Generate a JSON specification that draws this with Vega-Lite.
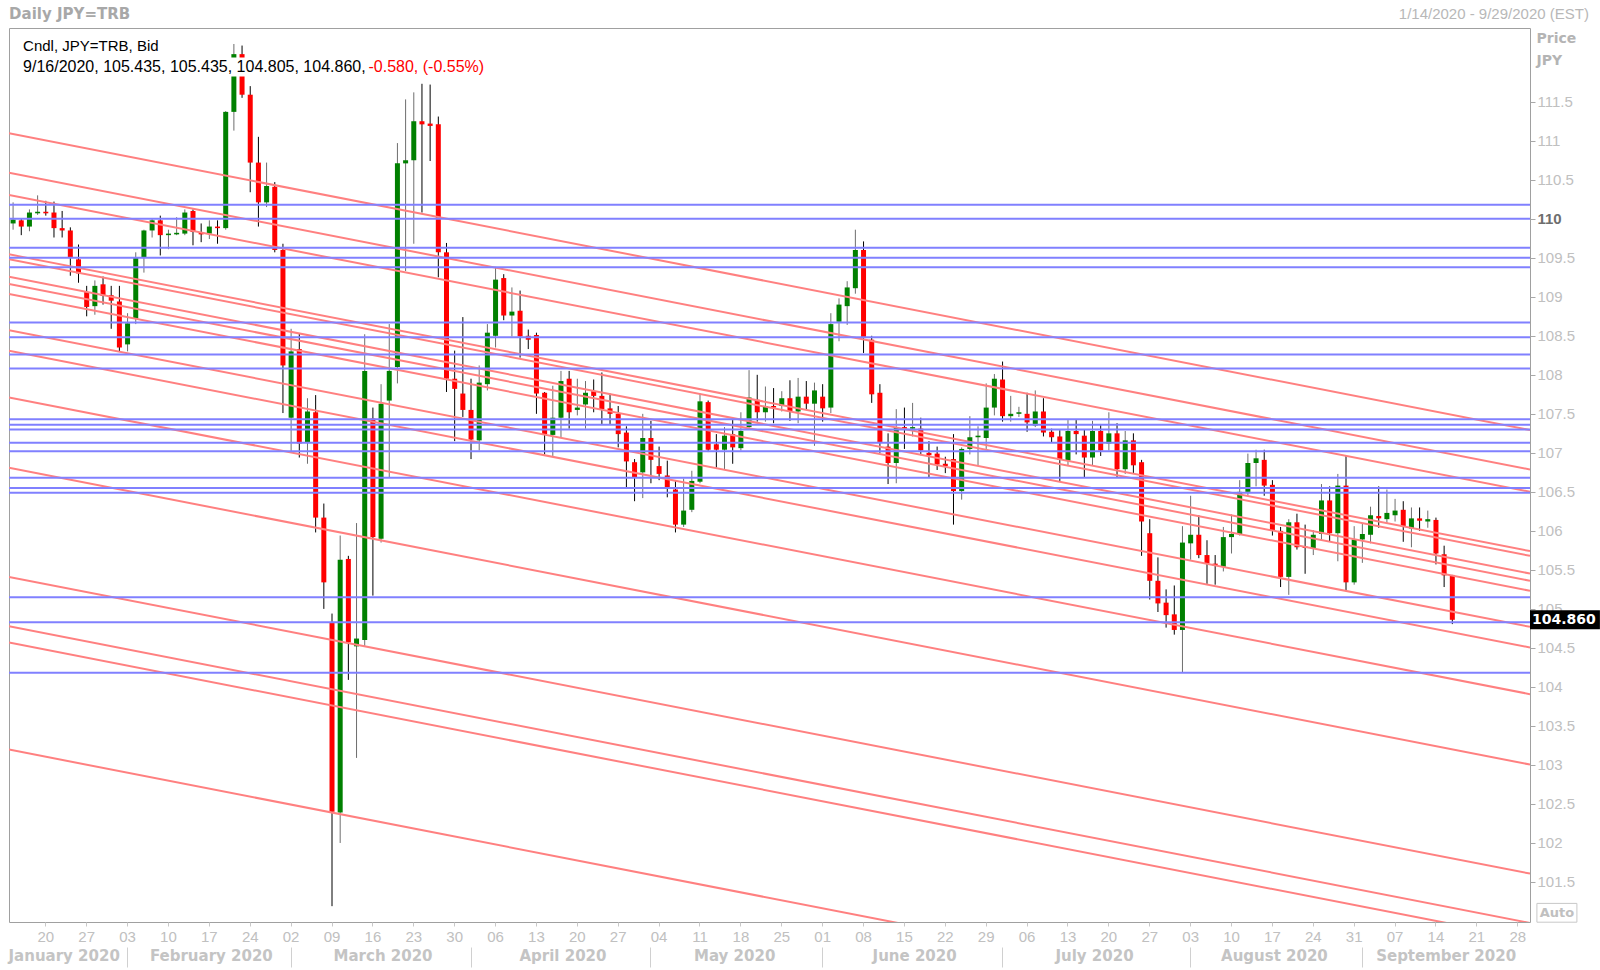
{
"$schema": "https://vega.github.io/schema/vega-lite/v6.json",
"width": 1521,
"height": 894,
"autosize": {"type": "none"},
"padding": {"left": 9, "top": 28, "right": 70, "bottom": 48},
"background": "#ffffff",
"config": {"view": {"stroke": "#a0a0a0", "strokeWidth": 1}, "font": "Liberation Sans"},
"datasets": {
"candles": [
{"d":"2020-01-14","o":109.94,"h":110.21,"l":109.86,"c":109.99},
{"d":"2020-01-15","o":109.98,"h":110.00,"l":109.79,"c":109.90},
{"d":"2020-01-16","o":109.90,"h":110.12,"l":109.84,"c":110.08},
{"d":"2020-01-17","o":110.07,"h":110.30,"l":110.05,"c":110.09},
{"d":"2020-01-20","o":110.09,"h":110.23,"l":110.04,"c":110.07},
{"d":"2020-01-21","o":110.08,"h":110.22,"l":109.76,"c":109.88},
{"d":"2020-01-22","o":109.88,"h":110.10,"l":109.76,"c":109.85},
{"d":"2020-01-23","o":109.85,"h":109.89,"l":109.27,"c":109.51},
{"d":"2020-01-24","o":109.48,"h":109.67,"l":109.18,"c":109.30},
{"d":"2020-01-27","o":109.06,"h":109.14,"l":108.75,"c":108.87},
{"d":"2020-01-28","o":108.88,"h":109.21,"l":108.77,"c":109.14},
{"d":"2020-01-29","o":109.16,"h":109.26,"l":108.90,"c":109.01},
{"d":"2020-01-30","o":109.02,"h":109.14,"l":108.59,"c":108.95},
{"d":"2020-01-31","o":108.94,"h":109.14,"l":108.30,"c":108.35},
{"d":"2020-02-03","o":108.39,"h":108.79,"l":108.30,"c":108.66},
{"d":"2020-02-04","o":108.72,"h":109.57,"l":108.65,"c":109.50},
{"d":"2020-02-05","o":109.50,"h":109.86,"l":109.31,"c":109.85},
{"d":"2020-02-06","o":109.85,"h":110.00,"l":109.76,"c":109.98},
{"d":"2020-02-07","o":109.98,"h":110.04,"l":109.53,"c":109.79},
{"d":"2020-02-10","o":109.79,"h":109.86,"l":109.61,"c":109.81},
{"d":"2020-02-11","o":109.80,"h":110.02,"l":109.79,"c":109.82},
{"d":"2020-02-12","o":109.81,"h":110.12,"l":109.79,"c":110.08},
{"d":"2020-02-13","o":110.10,"h":110.12,"l":109.66,"c":109.83},
{"d":"2020-02-14","o":109.82,"h":109.94,"l":109.70,"c":109.80},
{"d":"2020-02-17","o":109.81,"h":109.98,"l":109.74,"c":109.90},
{"d":"2020-02-18","o":109.90,"h":109.98,"l":109.68,"c":109.88},
{"d":"2020-02-19","o":109.88,"h":111.38,"l":109.86,"c":111.37},
{"d":"2020-02-20","o":111.37,"h":112.24,"l":111.13,"c":112.11},
{"d":"2020-02-21","o":112.11,"h":112.22,"l":111.55,"c":111.59},
{"d":"2020-02-24","o":111.59,"h":111.70,"l":110.34,"c":110.72},
{"d":"2020-02-25","o":110.72,"h":111.05,"l":109.90,"c":110.21},
{"d":"2020-02-26","o":110.21,"h":110.72,"l":110.15,"c":110.42},
{"d":"2020-02-27","o":110.41,"h":110.47,"l":109.57,"c":109.60},
{"d":"2020-02-28","o":109.60,"h":109.68,"l":107.51,"c":108.12},
{"d":"2020-03-02","o":107.45,"h":108.59,"l":107.02,"c":108.30},
{"d":"2020-03-03","o":108.33,"h":108.53,"l":106.94,"c":107.12},
{"d":"2020-03-04","o":107.13,"h":107.70,"l":106.86,"c":107.53},
{"d":"2020-03-05","o":107.52,"h":107.74,"l":105.98,"c":106.17},
{"d":"2020-03-06","o":106.17,"h":106.35,"l":105.00,"c":105.34},
{"d":"2020-03-09","o":104.83,"h":104.94,"l":101.19,"c":102.40},
{"d":"2020-03-10","o":102.39,"h":105.94,"l":102.00,"c":105.63},
{"d":"2020-03-11","o":105.64,"h":105.68,"l":104.09,"c":104.57},
{"d":"2020-03-12","o":104.52,"h":106.10,"l":103.09,"c":104.62},
{"d":"2020-03-13","o":104.60,"h":108.52,"l":104.52,"c":108.05},
{"d":"2020-03-16","o":107.44,"h":107.58,"l":105.17,"c":105.92},
{"d":"2020-03-17","o":105.90,"h":107.88,"l":105.85,"c":107.63},
{"d":"2020-03-18","o":107.67,"h":108.65,"l":106.69,"c":108.05},
{"d":"2020-03-19","o":108.10,"h":110.97,"l":107.89,"c":110.71},
{"d":"2020-03-20","o":110.71,"h":111.53,"l":109.33,"c":110.75},
{"d":"2020-03-23","o":110.75,"h":111.62,"l":109.68,"c":111.25},
{"d":"2020-03-24","o":111.25,"h":111.73,"l":110.08,"c":111.21},
{"d":"2020-03-25","o":111.22,"h":111.72,"l":110.74,"c":111.19},
{"d":"2020-03-26","o":111.21,"h":111.31,"l":109.25,"c":109.57},
{"d":"2020-03-27","o":109.57,"h":109.69,"l":107.78,"c":107.95},
{"d":"2020-03-30","o":107.95,"h":108.31,"l":107.15,"c":107.82},
{"d":"2020-03-31","o":107.76,"h":108.74,"l":107.46,"c":107.55},
{"d":"2020-04-01","o":107.55,"h":107.95,"l":106.92,"c":107.17},
{"d":"2020-04-02","o":107.16,"h":108.12,"l":107.03,"c":107.90},
{"d":"2020-04-03","o":107.88,"h":108.65,"l":107.80,"c":108.54},
{"d":"2020-04-06","o":108.50,"h":109.37,"l":108.35,"c":109.22},
{"d":"2020-04-07","o":109.24,"h":109.29,"l":108.70,"c":108.76},
{"d":"2020-04-08","o":108.76,"h":109.12,"l":108.49,"c":108.81},
{"d":"2020-04-09","o":108.82,"h":109.08,"l":108.22,"c":108.49},
{"d":"2020-04-10","o":108.50,"h":108.58,"l":108.33,"c":108.45},
{"d":"2020-04-13","o":108.51,"h":108.54,"l":107.50,"c":107.76},
{"d":"2020-04-14","o":107.77,"h":107.78,"l":106.98,"c":107.24},
{"d":"2020-04-15","o":107.23,"h":107.86,"l":106.96,"c":107.45},
{"d":"2020-04-16","o":107.45,"h":108.05,"l":107.20,"c":107.92},
{"d":"2020-04-17","o":107.95,"h":108.05,"l":107.31,"c":107.52},
{"d":"2020-04-20","o":107.55,"h":107.95,"l":107.48,"c":107.58},
{"d":"2020-04-21","o":107.62,"h":107.92,"l":107.31,"c":107.77},
{"d":"2020-04-22","o":107.79,"h":107.94,"l":107.52,"c":107.73},
{"d":"2020-04-23","o":107.73,"h":108.03,"l":107.37,"c":107.56},
{"d":"2020-04-24","o":107.57,"h":107.76,"l":107.37,"c":107.50},
{"d":"2020-04-27","o":107.50,"h":107.60,"l":107.07,"c":107.24},
{"d":"2020-04-28","o":107.26,"h":107.34,"l":106.56,"c":106.89},
{"d":"2020-04-29","o":106.88,"h":106.92,"l":106.38,"c":106.69},
{"d":"2020-04-30","o":106.75,"h":107.50,"l":106.42,"c":107.19},
{"d":"2020-05-01","o":107.19,"h":107.41,"l":106.61,"c":106.91},
{"d":"2020-05-04","o":106.83,"h":107.08,"l":106.65,"c":106.73},
{"d":"2020-05-05","o":106.71,"h":106.90,"l":106.43,"c":106.56},
{"d":"2020-05-06","o":106.53,"h":106.65,"l":105.98,"c":106.08},
{"d":"2020-05-07","o":106.08,"h":106.67,"l":106.05,"c":106.26},
{"d":"2020-05-08","o":106.27,"h":106.77,"l":106.24,"c":106.64},
{"d":"2020-05-11","o":106.63,"h":107.76,"l":106.61,"c":107.66},
{"d":"2020-05-12","o":107.65,"h":107.67,"l":107.01,"c":107.04},
{"d":"2020-05-13","o":107.11,"h":107.24,"l":106.81,"c":107.04},
{"d":"2020-05-14","o":107.04,"h":107.33,"l":106.78,"c":107.22},
{"d":"2020-05-15","o":107.24,"h":107.42,"l":106.86,"c":107.07},
{"d":"2020-05-18","o":107.06,"h":107.52,"l":107.03,"c":107.28},
{"d":"2020-05-19","o":107.33,"h":108.06,"l":107.31,"c":107.71},
{"d":"2020-05-20","o":107.68,"h":108.00,"l":107.40,"c":107.52},
{"d":"2020-05-21","o":107.52,"h":107.85,"l":107.40,"c":107.60},
{"d":"2020-05-22","o":107.60,"h":107.83,"l":107.38,"c":107.58},
{"d":"2020-05-25","o":107.60,"h":107.79,"l":107.53,"c":107.70},
{"d":"2020-05-26","o":107.70,"h":107.93,"l":107.41,"c":107.53},
{"d":"2020-05-27","o":107.53,"h":107.96,"l":107.38,"c":107.72},
{"d":"2020-05-28","o":107.72,"h":107.92,"l":107.56,"c":107.63},
{"d":"2020-05-29","o":107.63,"h":107.90,"l":107.09,"c":107.80},
{"d":"2020-06-01","o":107.72,"h":107.88,"l":107.40,"c":107.57},
{"d":"2020-06-02","o":107.58,"h":108.79,"l":107.51,"c":108.65},
{"d":"2020-06-03","o":108.68,"h":108.98,"l":108.43,"c":108.90},
{"d":"2020-06-04","o":108.88,"h":109.20,"l":108.64,"c":109.12},
{"d":"2020-06-05","o":109.11,"h":109.86,"l":109.04,"c":109.60},
{"d":"2020-06-08","o":109.60,"h":109.71,"l":108.28,"c":108.48},
{"d":"2020-06-09","o":108.45,"h":108.50,"l":107.64,"c":107.75},
{"d":"2020-06-10","o":107.77,"h":107.88,"l":107.00,"c":107.14},
{"d":"2020-06-11","o":107.08,"h":107.25,"l":106.60,"c":106.87},
{"d":"2020-06-12","o":106.87,"h":107.56,"l":106.61,"c":107.33},
{"d":"2020-06-15","o":107.33,"h":107.58,"l":107.05,"c":107.31},
{"d":"2020-06-16","o":107.31,"h":107.64,"l":107.21,"c":107.33},
{"d":"2020-06-17","o":107.31,"h":107.45,"l":106.97,"c":107.03},
{"d":"2020-06-18","o":107.00,"h":107.15,"l":106.69,"c":106.97},
{"d":"2020-06-19","o":106.99,"h":107.08,"l":106.78,"c":106.85},
{"d":"2020-06-22","o":106.86,"h":106.95,"l":106.74,"c":106.83},
{"d":"2020-06-23","o":106.92,"h":107.24,"l":106.08,"c":106.51},
{"d":"2020-06-24","o":106.51,"h":107.07,"l":106.40,"c":107.05},
{"d":"2020-06-25","o":107.05,"h":107.47,"l":106.98,"c":107.20},
{"d":"2020-06-26","o":107.20,"h":107.34,"l":106.84,"c":107.22},
{"d":"2020-06-29","o":107.19,"h":107.89,"l":107.05,"c":107.58},
{"d":"2020-06-30","o":107.58,"h":108.01,"l":107.48,"c":107.95},
{"d":"2020-07-01","o":107.94,"h":108.17,"l":107.40,"c":107.47},
{"d":"2020-07-02","o":107.47,"h":107.73,"l":107.40,"c":107.50},
{"d":"2020-07-03","o":107.50,"h":107.59,"l":107.46,"c":107.52},
{"d":"2020-07-06","o":107.50,"h":107.77,"l":107.27,"c":107.39},
{"d":"2020-07-07","o":107.35,"h":107.80,"l":107.33,"c":107.53},
{"d":"2020-07-08","o":107.53,"h":107.70,"l":107.21,"c":107.26},
{"d":"2020-07-09","o":107.27,"h":107.31,"l":107.13,"c":107.20},
{"d":"2020-07-10","o":107.21,"h":107.29,"l":106.63,"c":106.91},
{"d":"2020-07-13","o":106.90,"h":107.42,"l":106.83,"c":107.28},
{"d":"2020-07-14","o":107.28,"h":107.42,"l":106.98,"c":107.24},
{"d":"2020-07-15","o":107.22,"h":107.30,"l":106.69,"c":106.94},
{"d":"2020-07-16","o":106.94,"h":107.41,"l":106.84,"c":107.28},
{"d":"2020-07-17","o":107.28,"h":107.37,"l":106.96,"c":107.03},
{"d":"2020-07-20","o":107.12,"h":107.52,"l":107.03,"c":107.25},
{"d":"2020-07-21","o":107.25,"h":107.38,"l":106.69,"c":106.79},
{"d":"2020-07-22","o":106.79,"h":107.28,"l":106.73,"c":107.16},
{"d":"2020-07-23","o":107.16,"h":107.25,"l":106.73,"c":106.84},
{"d":"2020-07-24","o":106.88,"h":106.91,"l":105.68,"c":106.12},
{"d":"2020-07-27","o":105.97,"h":106.15,"l":105.12,"c":105.36},
{"d":"2020-07-28","o":105.36,"h":105.66,"l":104.96,"c":105.07},
{"d":"2020-07-29","o":105.08,"h":105.25,"l":104.76,"c":104.92},
{"d":"2020-07-30","o":104.93,"h":105.30,"l":104.67,"c":104.73},
{"d":"2020-07-31","o":104.73,"h":106.06,"l":104.19,"c":105.85},
{"d":"2020-08-03","o":105.84,"h":106.45,"l":105.63,"c":105.95},
{"d":"2020-08-04","o":105.95,"h":106.20,"l":105.65,"c":105.69},
{"d":"2020-08-05","o":105.69,"h":105.88,"l":105.32,"c":105.58},
{"d":"2020-08-06","o":105.58,"h":105.69,"l":105.31,"c":105.55},
{"d":"2020-08-07","o":105.54,"h":106.05,"l":105.48,"c":105.92},
{"d":"2020-08-10","o":105.92,"h":106.21,"l":105.71,"c":105.96},
{"d":"2020-08-11","o":105.96,"h":106.65,"l":105.94,"c":106.50},
{"d":"2020-08-12","o":106.50,"h":106.99,"l":106.45,"c":106.87},
{"d":"2020-08-13","o":106.87,"h":107.04,"l":106.57,"c":106.93},
{"d":"2020-08-14","o":106.91,"h":107.04,"l":106.45,"c":106.58},
{"d":"2020-08-17","o":106.59,"h":106.65,"l":105.94,"c":106.00},
{"d":"2020-08-18","o":106.00,"h":106.05,"l":105.28,"c":105.41},
{"d":"2020-08-19","o":105.41,"h":106.15,"l":105.18,"c":106.11},
{"d":"2020-08-20","o":106.11,"h":106.22,"l":105.76,"c":105.79},
{"d":"2020-08-21","o":105.80,"h":106.08,"l":105.45,"c":105.78},
{"d":"2020-08-24","o":105.78,"h":106.01,"l":105.69,"c":105.95},
{"d":"2020-08-25","o":105.96,"h":106.60,"l":105.87,"c":106.39},
{"d":"2020-08-26","o":106.39,"h":106.57,"l":105.87,"c":105.97},
{"d":"2020-08-27","o":105.97,"h":106.73,"l":105.61,"c":106.58},
{"d":"2020-08-28","o":106.58,"h":106.96,"l":105.24,"c":105.34},
{"d":"2020-08-31","o":105.34,"h":106.06,"l":105.31,"c":105.89},
{"d":"2020-09-01","o":105.89,"h":106.10,"l":105.59,"c":105.96},
{"d":"2020-09-02","o":105.95,"h":106.31,"l":105.84,"c":106.20},
{"d":"2020-09-03","o":106.19,"h":106.57,"l":106.04,"c":106.16},
{"d":"2020-09-04","o":106.15,"h":106.53,"l":106.09,"c":106.23},
{"d":"2020-09-07","o":106.20,"h":106.41,"l":106.12,"c":106.26},
{"d":"2020-09-08","o":106.27,"h":106.38,"l":105.86,"c":106.05},
{"d":"2020-09-09","o":106.03,"h":106.30,"l":105.79,"c":106.16},
{"d":"2020-09-10","o":106.16,"h":106.30,"l":106.00,"c":106.13},
{"d":"2020-09-11","o":106.12,"h":106.26,"l":106.04,"c":106.15},
{"d":"2020-09-14","o":106.14,"h":106.17,"l":105.57,"c":105.71},
{"d":"2020-09-15","o":105.70,"h":105.81,"l":105.28,"c":105.43},
{"d":"2020-09-16","o":105.435,"h":105.435,"l":104.805,"c":104.86}
],
"trend": [
{"d1":"2020-01-14","d2":"2020-09-29","p1":111.095,"p2":107.292},
{"d1":"2020-01-14","d2":"2020-09-29","p1":110.590,"p2":106.787},
{"d1":"2020-01-14","d2":"2020-09-29","p1":110.304,"p2":106.501},
{"d1":"2020-01-14","d2":"2020-09-29","p1":109.544,"p2":105.741},
{"d1":"2020-01-14","d2":"2020-09-29","p1":109.483,"p2":105.680},
{"d1":"2020-01-14","d2":"2020-09-29","p1":109.256,"p2":105.453},
{"d1":"2020-01-14","d2":"2020-09-29","p1":109.163,"p2":105.360},
{"d1":"2020-01-14","d2":"2020-09-29","p1":109.035,"p2":105.232},
{"d1":"2020-01-14","d2":"2020-09-29","p1":108.573,"p2":104.770},
{"d1":"2020-01-14","d2":"2020-09-29","p1":108.308,"p2":104.505},
{"d1":"2020-01-14","d2":"2020-09-29","p1":107.710,"p2":103.907},
{"d1":"2020-01-14","d2":"2020-09-29","p1":106.808,"p2":103.005},
{"d1":"2020-01-14","d2":"2020-09-29","p1":105.410,"p2":101.607},
{"d1":"2020-01-14","d2":"2020-09-29","p1":104.778,"p2":100.975},
{"d1":"2020-01-14","d2":"2020-09-29","p1":104.569,"p2":100.766},
{"d1":"2020-01-14","d2":"2020-09-29","p1":103.197,"p2":99.394}
],
"levels": [
{"p":110.18},{"p":110.00},{"p":109.63},{"p":109.50},{"p":109.38},{"p":108.67},{"p":108.48},{"p":108.26},{"p":108.08},{"p":107.43},{"p":107.36},{"p":107.30},{"p":107.13},{"p":107.02},{"p":106.68},{"p":106.55},{"p":106.49},{"p":105.15},{"p":104.83},{"p":104.18}
]
},
"resolve": {"axis": {"x": "independent", "y": "independent"}},
"layer": [
{
"data": {"name": "candles"},
"mark": {"type": "rule", "strokeWidth": 1},
"encoding": {
"x": {"field": "d", "type": "ordinal",
"scale": {"type": "band", "paddingInner": 0, "paddingOuter": 0, "domain": ["2020-01-14","2020-01-15","2020-01-16","2020-01-17","2020-01-20","2020-01-21","2020-01-22","2020-01-23","2020-01-24","2020-01-27","2020-01-28","2020-01-29","2020-01-30","2020-01-31","2020-02-03","2020-02-04","2020-02-05","2020-02-06","2020-02-07","2020-02-10","2020-02-11","2020-02-12","2020-02-13","2020-02-14","2020-02-17","2020-02-18","2020-02-19","2020-02-20","2020-02-21","2020-02-24","2020-02-25","2020-02-26","2020-02-27","2020-02-28","2020-03-02","2020-03-03","2020-03-04","2020-03-05","2020-03-06","2020-03-09","2020-03-10","2020-03-11","2020-03-12","2020-03-13","2020-03-16","2020-03-17","2020-03-18","2020-03-19","2020-03-20","2020-03-23","2020-03-24","2020-03-25","2020-03-26","2020-03-27","2020-03-30","2020-03-31","2020-04-01","2020-04-02","2020-04-03","2020-04-06","2020-04-07","2020-04-08","2020-04-09","2020-04-10","2020-04-13","2020-04-14","2020-04-15","2020-04-16","2020-04-17","2020-04-20","2020-04-21","2020-04-22","2020-04-23","2020-04-24","2020-04-27","2020-04-28","2020-04-29","2020-04-30","2020-05-01","2020-05-04","2020-05-05","2020-05-06","2020-05-07","2020-05-08","2020-05-11","2020-05-12","2020-05-13","2020-05-14","2020-05-15","2020-05-18","2020-05-19","2020-05-20","2020-05-21","2020-05-22","2020-05-25","2020-05-26","2020-05-27","2020-05-28","2020-05-29","2020-06-01","2020-06-02","2020-06-03","2020-06-04","2020-06-05","2020-06-08","2020-06-09","2020-06-10","2020-06-11","2020-06-12","2020-06-15","2020-06-16","2020-06-17","2020-06-18","2020-06-19","2020-06-22","2020-06-23","2020-06-24","2020-06-25","2020-06-26","2020-06-29","2020-06-30","2020-07-01","2020-07-02","2020-07-03","2020-07-06","2020-07-07","2020-07-08","2020-07-09","2020-07-10","2020-07-13","2020-07-14","2020-07-15","2020-07-16","2020-07-17","2020-07-20","2020-07-21","2020-07-22","2020-07-23","2020-07-24","2020-07-27","2020-07-28","2020-07-29","2020-07-30","2020-07-31","2020-08-03","2020-08-04","2020-08-05","2020-08-06","2020-08-07","2020-08-10","2020-08-11","2020-08-12","2020-08-13","2020-08-14","2020-08-17","2020-08-18","2020-08-19","2020-08-20","2020-08-21","2020-08-24","2020-08-25","2020-08-26","2020-08-27","2020-08-28","2020-08-31","2020-09-01","2020-09-02","2020-09-03","2020-09-04","2020-09-07","2020-09-08","2020-09-09","2020-09-10","2020-09-11","2020-09-14","2020-09-15","2020-09-16","2020-09-17","2020-09-18","2020-09-21","2020-09-22","2020-09-23","2020-09-24","2020-09-25","2020-09-28","2020-09-29"]},
"axis": {"orient": "bottom", "values": ["2020-01-20","2020-01-27","2020-02-03","2020-02-10","2020-02-17","2020-02-24","2020-03-02","2020-03-09","2020-03-16","2020-03-23","2020-03-30","2020-04-06","2020-04-13","2020-04-20","2020-04-27","2020-05-04","2020-05-11","2020-05-18","2020-05-25","2020-06-01","2020-06-08","2020-06-15","2020-06-22","2020-06-29","2020-07-06","2020-07-13","2020-07-20","2020-07-27","2020-08-03","2020-08-10","2020-08-17","2020-08-24","2020-08-31","2020-09-07","2020-09-14","2020-09-21","2020-09-28"],
"labelExpr": "substring(datum.value, 8, 10)", "title": null, "domain": false, "grid": false, "ticks": true, "tickSize": 4, "tickColor": "#c8c8c8", "labelColor": "#c0c0c0", "labelFont": "Liberation Sans", "labelFontSize": 15, "labelPadding": 3, "labelAngle": 0, "labelOverlap": false, "labelBound": false, "labelFlush": false}},
"y": {"field": "l", "type": "quantitative",
"scale": {"domain": [100.987, 112.445], "nice": false, "zero": false},
"axis": {"orient": "right", "values": [101.5,102,102.5,103,103.5,104,104.5,105,105.5,106,106.5,107,107.5,108,108.5,109,109.5,110,110.5,111,111.5], "format": "~g",
"title": ["Price", "JPY"], "titleAngle": 0, "titleAlign": "left", "titleBaseline": "top", "titleX": 6, "titleY": 3, "titleFont": "DejaVu Sans", "titleFontWeight": "bold", "titleFontSize": 14, "titleColor": "#b4b4b4", "titleLineHeight": 22,
"domain": false, "grid": false, "tickSize": 5, "tickColor": "#a8a8a8", "labelPadding": 2, "labelFont": "Liberation Sans", "labelFontSize": 15,
"labelColor": {"condition": {"test": "datum.value == 110", "value": "#6e6e6e"}, "value": "#c0c0c0"},
"labelFontWeight": {"condition": {"test": "datum.value == 110", "value": "bold"}, "value": "normal"},
"labelOverlap": false, "labelBound": false, "labelFlush": false}},
"y2": {"field": "h"},
"color": {"condition": {"test": "datum.c >= datum.o", "value": "#6e6e6e"}, "value": "#000000"}
}
},
{
"data": {"name": "candles"},
"mark": {"type": "bar", "width": 5},
"encoding": {
"x": {"field": "d", "type": "ordinal",
"axis": {"orient": "bottom", "values": ["2020-01-22","2020-02-17","2020-03-17","2020-04-16","2020-05-15","2020-06-16","2020-07-16","2020-08-17","2020-09-15"],
"labelExpr": "['January','February','March','April','May','June','July','August','September'][toNumber(substring(datum.value,5,7))-1] + ' 2020'",
"title": null, "ticks": false, "tickSize": 0, "domain": false, "grid": false, "labelPadding": 26, "labelOffset": 2, "labelFont": "DejaVu Sans", "labelFontWeight": "bold", "labelFontSize": 15, "labelColor": "#c4c4c4", "labelAngle": 0, "labelOverlap": false, "labelBound": false, "labelFlush": false}},
"y": {"field": "o", "type": "quantitative", "axis": null},
"y2": {"field": "c"},
"color": {"condition": {"test": "datum.c >= datum.o", "value": "#008000"}, "value": "#ff0000"}
}
},
{
"data": {"name": "trend"},
"mark": {"type": "rule", "color": "#ff8080", "strokeWidth": 2, "clip": true, "xOffset": -4.09, "x2Offset": 4.09},
"encoding": {
"x": {"field": "d1", "type": "ordinal",
"axis": {"orient": "bottom", "values": ["2020-02-03","2020-03-02","2020-04-01","2020-05-01","2020-06-01","2020-07-01","2020-08-03","2020-09-01"], "labels": false, "ticks": true, "tickSize": 20, "tickColor": "#d0d0d0", "domain": false, "grid": false, "offset": 25, "title": null}},
"x2": {"field": "d2"},
"y": {"field": "p1", "type": "quantitative", "axis": null},
"y2": {"field": "p2"}
}
},
{
"data": {"name": "levels"},
"mark": {"type": "rule", "color": "#8080ff", "strokeWidth": 2},
"encoding": {
"y": {"field": "p", "type": "quantitative", "axis": null}
}
},
{
"data": {"values": [{}]},
"mark": {"type": "rule", "color": "#ffffff", "strokeWidth": 19, "xOffset": 7},
"encoding": {
"x": {"datum": "2020-01-14", "type": "ordinal", "axis": null},
"x2": {"datum": "2020-04-03"},
"y": {"datum": 111.945, "type": "quantitative", "axis": null}
}
},
{
"data": {"values": [{}]},
"mark": {"type": "text", "text": "Cndl, JPY=TRB, Bid", "align": "left", "baseline": "middle", "font": "Liberation Sans", "fontSize": 15, "color": "#000000", "xOffset": 10},
"encoding": {
"x": {"datum": "2020-01-14", "type": "ordinal", "axis": null},
"y": {"datum": 112.214, "type": "quantitative", "axis": null}
}
},
{
"data": {"values": [{}]},
"mark": {"type": "text", "text": "9/16/2020, 105.435, 105.435, 104.805, 104.860, ", "align": "left", "baseline": "middle", "font": "Liberation Sans", "fontSize": 16, "color": "#000000", "xOffset": 10},
"encoding": {
"x": {"datum": "2020-01-14", "type": "ordinal", "axis": null},
"y": {"datum": 111.945, "type": "quantitative", "axis": null}
}
},
{
"data": {"values": [{}]},
"mark": {"type": "text", "text": "-0.580, (-0.55%)", "align": "left", "baseline": "middle", "font": "Liberation Sans", "fontSize": 16, "color": "#ff0000", "xOffset": -4.4},
"encoding": {
"x": {"datum": "2020-03-16", "type": "ordinal", "axis": null},
"y": {"datum": 111.945, "type": "quantitative", "axis": null}
}
},
{
"data": {"values": [{}]},
"mark": {"type": "text", "text": "Daily JPY=TRB", "align": "left", "baseline": "middle", "font": "DejaVu Sans", "fontWeight": "bold", "fontSize": 15, "color": "#a8a8a8", "xOffset": -4},
"encoding": {
"x": {"datum": "2020-01-14", "type": "ordinal", "axis": null},
"y": {"datum": 112.624, "type": "quantitative", "axis": null}
}
},
{
"data": {"values": [{}]},
"mark": {"type": "text", "text": "1/14/2020 - 9/29/2020 (EST)", "align": "right", "baseline": "middle", "font": "Liberation Sans", "fontSize": 15, "color": "#b8b8b8", "xOffset": 63},
"encoding": {
"x": {"datum": "2020-09-29", "type": "ordinal", "axis": null},
"y": {"datum": 112.624, "type": "quantitative", "axis": null}
}
},
{
"data": {"values": [{}]},
"mark": {"type": "rule", "color": "#000000", "strokeWidth": 19, "xOffset": 4.1, "x2Offset": 74},
"encoding": {
"x": {"datum": "2020-09-29", "type": "ordinal", "axis": null},
"x2": {"datum": "2020-09-29"},
"y": {"datum": 104.86, "type": "quantitative", "axis": null}
}
},
{
"data": {"values": [{}]},
"mark": {"type": "text", "text": "104.860", "align": "left", "baseline": "middle", "font": "DejaVu Sans", "fontWeight": "bold", "fontSize": 14, "color": "#ffffff", "xOffset": 6},
"encoding": {
"x": {"datum": "2020-09-29", "type": "ordinal", "axis": null},
"y": {"datum": 104.86, "type": "quantitative", "axis": null}
}
},
{
"data": {"values": [{}]},
"mark": {"type": "point", "shape": "M-1,-0.47H1V0.47H-1Z", "size": 1600, "filled": false, "stroke": "#c8c8c8", "strokeWidth": 1, "opacity": 1, "xOffset": 31},
"encoding": {
"x": {"datum": "2020-09-29", "type": "ordinal", "axis": null},
"y": {"datum": 101.105, "type": "quantitative", "axis": null}
}
},
{
"data": {"values": [{}]},
"mark": {"type": "text", "text": "Auto", "align": "center", "baseline": "middle", "font": "DejaVu Sans", "fontWeight": "bold", "fontSize": 13, "color": "#c0c0c0", "xOffset": 31},
"encoding": {
"x": {"datum": "2020-09-29", "type": "ordinal", "axis": null},
"y": {"datum": 101.105, "type": "quantitative", "axis": null}
}
}
]
}
